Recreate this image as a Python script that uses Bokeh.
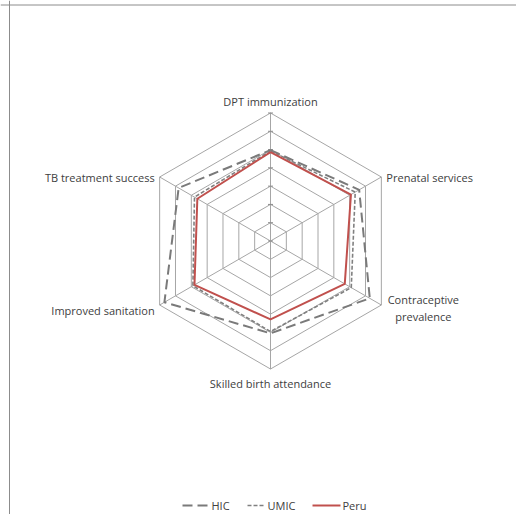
import numpy as np
from bokeh.plotting import figure
from bokeh.models import Range1d, ColumnDataSource, Span
from bokeh.core.properties import value
from bokeh.embed import file_html
from bokeh.resources import INLINE

# ---- data ----
categories = ["DPT immunization", "Prenatal services", "Contraceptive\nprevalence",
              "Skilled birth attendance", "Improved sanitation", "TB treatment success"]
hic = [79.7, 86.0, 92.7, 80.5, 97.0, 88.0]
umic = [79.3, 83.5, 81.0, 79.5, 79.0, 78.0]
peru = [78.6, 80.8, 76.9, 72.9, 78.0, 76.2]
series_names = ["HIC", "UMIC", "Peru"]
axis_min, axis_max, axis_step = 30, 100, 10

# ---- layout ----
W, H = 516, 514
CX, CY = 270.0, 240.5          # centre of the radar in figure pixels (from left, from top)
R_PX = 128.0                   # outer ring radius in pixels
k = R_PX / (axis_max - axis_min)

def fx(px):  # figure pixel x -> data x
    return (px - CX) / k

def fy(py):  # figure pixel y (from top) -> data y
    return (CY - py) / k

FONT = "Open Sans"
FS = "11px"
TXT = "#404040"

p = figure(width=W, height=H, output_backend="svg", toolbar_location=None,
           x_range=Range1d(fx(0), fx(W)), y_range=Range1d(fy(H), fy(0)),
           x_axis_location=None, y_axis_location=None, min_border=0,
           background_fill_color="white", border_fill_color="white")
p.grid.visible = False
p.outline_line_color = None

n = len(categories)
theta = np.deg2rad(90 - 60 * np.arange(n))
cos_t, sin_t = np.cos(theta), np.sin(theta)

# grid rings
levels = np.arange(axis_min + axis_step, axis_max + axis_step / 2, axis_step)
xs, ys = [], []
for lv in levels:
    r = lv - axis_min
    xs.append(list(r * cos_t) + [r * cos_t[0]])
    ys.append(list(r * sin_t) + [r * sin_t[0]])
p.multi_line(xs, ys, line_color="#a6a6a6", line_width=1)

# spokes
R = axis_max - axis_min
p.segment(x0=[0] * n, y0=[0] * n, x1=list(R * cos_t), y1=list(R * sin_t),
          line_color="#a6a6a6", line_width=1)

# tick marks on first axis
tick_r = np.concatenate([[0], levels - axis_min])
p.scatter(x=[0] * len(tick_r), y=list(tick_r), marker="dash", size=5,
          line_color="#8c8c8c", line_width=1)

# series
def poly(vals):
    r = np.array(vals) - axis_min
    return list(r * cos_t) + [r[0] * cos_t[0]], list(r * sin_t) + [r[0] * sin_t[0]]

styles = {
    "HIC": dict(line_color="#7a7a7a", line_width=2, line_dash="10 5"),
    "UMIC": dict(line_color="#808080", line_width=1.6, line_dash="4 2"),
    "Peru": dict(line_color="#c0504d", line_width=2),
}
for name, vals in zip(series_names, [hic, umic, peru]):
    x, y = poly(vals)
    p.line(x, y, **styles[name])

# category labels
lab = ColumnDataSource(dict(
    x=list(R * cos_t), y=list(R * sin_t), text=categories,
    xo=[0, 5, 42, 0, -5, -5],
    yo=[-11.5, 0, 3, 14.5, 5, 0.5],
    align=["center", "left", "center", "center", "right", "right"],
))
p.text(x="x", y="y", text="text", x_offset="xo", y_offset="yo", text_align="align",
       text_baseline="middle", text_font=value(FONT), text_font_size=FS,
       text_color=TXT, text_line_height=1.15, source=lab)

# legend (manual)
leg_y = fy(505)
leg = [("HIC", 182, 209, 211), ("UMIC", 247, 264, 267), ("Peru", 312, 340, 342)]
for name, a, b, t in leg:
    p.line([fx(a), fx(b)], [leg_y, leg_y], **styles[name])
    p.text(x=[fx(t)], y=[leg_y], text=[name], text_align="left", text_baseline="middle",
           text_font=value(FONT), text_font_size=FS, text_color=TXT)

# chart-area border (left and top only visible)
p.add_layout(Span(location=fx(9), dimension="height", line_color="#8c8c8c", line_width=1))
p.add_layout(Span(location=fy(4.5), dimension="width", line_color="#8c8c8c", line_width=1))

open("out.html", "w").write(file_html(p, INLINE))
